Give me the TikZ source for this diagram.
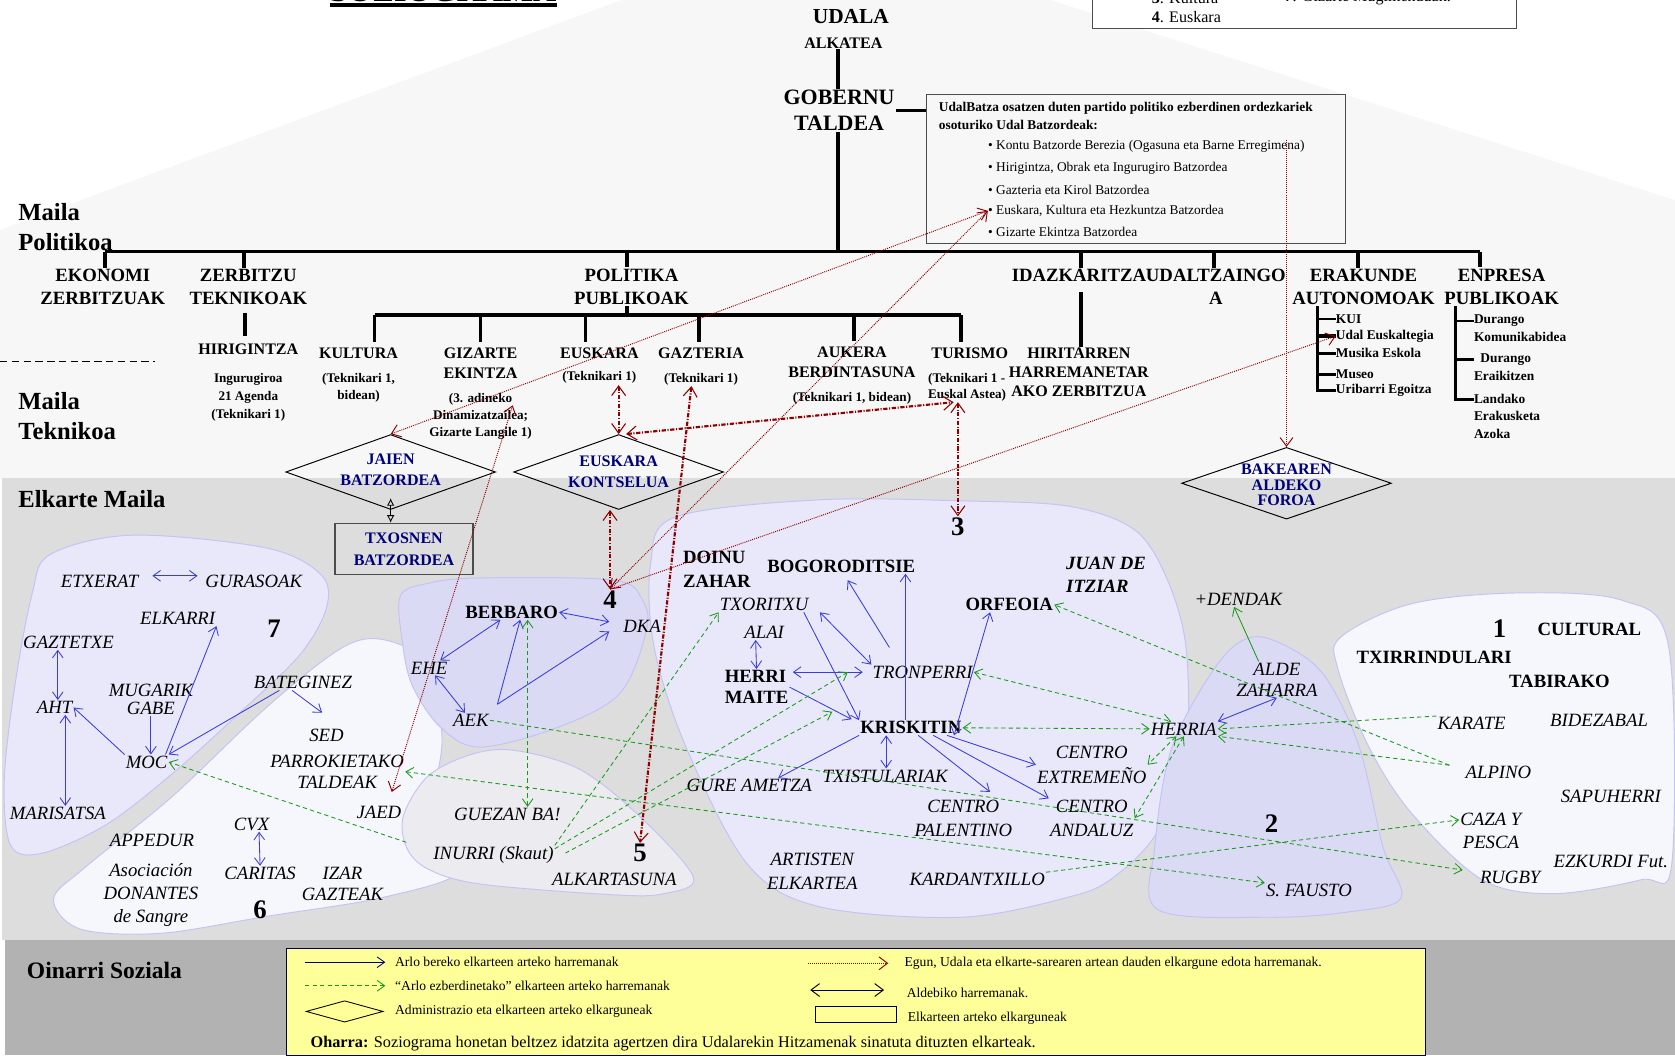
\documentclass[tikz,border=0pt]{standalone}
\usepackage{fontspec}
\setmainfont{Liberation Serif}
\usetikzlibrary{arrows.meta,shapes.geometric}
\definecolor{bgtop}{RGB}{247,247,247}
\definecolor{bgmid}{RGB}{221,221,221}
\definecolor{bgbot}{RGB}{178,178,178}
\definecolor{legy}{RGB}{255,255,153}
\definecolor{navy}{RGB}{0,0,120}
\definecolor{blu}{RGB}{60,60,215}
\definecolor{grn}{RGB}{25,155,25}
\definecolor{dred}{RGB}{140,0,0}
\definecolor{lav}{RGB}{232,232,250}
\definecolor{lavd}{RGB}{218,218,245}
\definecolor{lavw}{RGB}{246,246,253}
\definecolor{lgray}{RGB}{236,236,240}
\definecolor{bord}{RGB}{195,195,245}
\tikzset{
 elk/.style={font=\fontsize{17.5}{21}\selectfont\itshape, inner sep=1pt, align=center},
 elkb/.style={font=\fontsize{17.5}{21}\selectfont\bfseries, inner sep=1pt, align=center},
 numl/.style={font=\fontsize{25}{25}\selectfont\bfseries, inner sep=1pt},
 lvla/.style={font=\fontsize{17.5}{22}\selectfont\bfseries, align=center, inner sep=1pt},
 lvlb/.style={font=\fontsize{15}{19}\selectfont\bfseries, align=center, inner sep=1pt},
 subt/.style={font=\fontsize{12.3}{16}\selectfont\bfseries, align=center, inner sep=1pt},
 sidelbl/.style={font=\fontsize{23}{28}\selectfont\bfseries, align=left, inner sep=0pt, anchor=west},
 navyt/.style={font=\fontsize{15}{20}\selectfont\bfseries, text=navy, align=center, inner sep=0pt},
 diam/.style={diamond, draw=black, line width=0.9pt, inner sep=0pt, minimum width=196, minimum height=70},
 treeln/.style={line width=3.5pt},
 blob/.style={draw=bord, line width=0.9pt},
 blarr/.style={draw=blu, line width=0.8pt},
 grarr/.style={draw=grn, line width=0.8pt, dash pattern=on 4pt off 3pt},
 rdarr/.style={draw=dred, line width=0.9pt, densely dotted, >={Straight Barb[length=8pt,width=12pt]}},
 rdkarr/.style={draw=dred, line width=2pt, dash pattern=on 4pt off 1.5pt on 1pt off 1.5pt, >={Straight Barb[length=9pt,width=13pt,line width=1pt]}},
 legt/.style={font=\fontsize{12.7}{14}\selectfont, anchor=west, inner sep=0pt},
 boxt/.style={font=\fontsize{12.5}{14}\selectfont, anchor=west, inner sep=0pt},
 listt/.style={font=\fontsize{12.5}{14}\selectfont\bfseries, anchor=west, inner sep=0pt},
}
\begin{document}
\begin{tikzpicture}[x=1pt,y=-1pt, >={Straight Barb[length=7pt,width=10pt]}]
\useasboundingbox (0,0) rectangle (1565,986);
% backgrounds
\fill[white] (0,0) rectangle (1565,986);
\fill[bgtop] (0,215) -- (581,0) -- (981,0) -- (1565,187) -- (1565,447) -- (0,447) -- cycle;
\fill[bgmid] (2,447) rectangle (1565,878);
\fill[bgbot] (5,878) rectangle (1565,986);

% blobs
\draw[blob, fill=lavw] plot[smooth cycle, tension=0.55] coordinates {(360,598) (400,622) (413,690) (405,760) (432,812) (360,838) (250,856) (150,872) (75,868) (50,840) (80,810) (160,745) (250,660) (320,605)};
\draw[blob, fill=lav] plot[smooth cycle, tension=0.55] coordinates {(47,518) (124,500) (249,512) (300,537) (305,568) (280,612) (225,665) (162,722) (100,770) (40,797) (10,790) (4,729) (14,640) (30,555)};
\draw[blob, fill=lavd] plot[smooth cycle, tension=0.55] coordinates {(374,557) (400,545) (448,540) (573,542) (600,560) (604,589) (579,648) (520,680) (448,698) (411,679) (385,640) (376,600)};
\draw[blob, fill=lgray] plot[smooth cycle, tension=0.55] coordinates {(377,762) (400,725) (440,705) (480,701) (542,719) (600,765) (648,820) (620,835) (573,836) (449,826) (400,812) (380,792)};
\draw[blob, fill=lavw] plot[smooth cycle, tension=0.55] coordinates {(1253,595) (1319,564) (1418,554) (1516,561) (1559,604) (1562,807) (1533,822) (1451,835) (1385,822) (1319,760) (1279,698) (1250,625)};
\draw[blob, fill=lav] plot[smooth cycle, tension=0.55] coordinates {(631,483) (765,467) (900,468) (999,473) (1060,495) (1090,540) (1108,604) (1108,698) (1082,776) (1040,820) (999,838) (898,857) (765,847) (698,807) (641,698) (611,604) (608,526)};
\draw[blob, fill=lavd] plot[smooth cycle, tension=0.55] coordinates {(1171,595) (1210,608) (1240,635) (1270,698) (1292,791) (1309,839) (1260,852) (1187,857) (1082,850) (1079,791) (1095,698) (1138,620)};

% title and top legend box
\node[anchor=base west, font=\fontsize{30}{30}\selectfont\bfseries, inner sep=0pt] (title) at (308,1.5) {SOZIOGRAMA};
\draw[line width=3.5pt] ([yshift=-3.5]title.base west) -- ([yshift=-3.5]title.base east);
\node[draw=black!70, line width=0.8pt, fill=white, minimum width=396, minimum height=60, inner sep=0pt, anchor=south west] (tbox) at (1020,27) {};
\node[anchor=west, font=\fontsize{15}{18}\selectfont, inner sep=0pt] (tb3) at (1076,-2) {\textbf{3}. Kultura};
\node[anchor=west, font=\fontsize{15}{18}\selectfont, inner sep=0pt] (tb7) at (1200,-2) {\textbf{7}. Gizarte Mugimenduak.};
\node[anchor=west, font=\fontsize{15}{18}\selectfont, inner sep=0pt] (tb4) at (1076,16) {\textbf{4}. Euskara};

% political level
\node[font=\fontsize{20}{22}\selectfont\bfseries, inner sep=1pt] (udala) at (795,15) {UDALA};
\node[font=\fontsize{15}{17}\selectfont\bfseries, inner sep=1pt] (alkatea) at (788,40) {ALKATEA};
\node[font=\fontsize{20.5}{24}\selectfont\bfseries, align=center, inner sep=1pt] (gobernu) at (784,103) {GOBERNU\\TALDEA};
\node[draw=black!70, line width=0.8pt, fill=bgtop, minimum width=391, minimum height=139, inner sep=0pt] (ubox) at (1061.5,157.5) {};
\node[boxt, font=\fontsize{12.5}{14}\selectfont\bfseries] (ut1) at (877,101) {UdalBatza osatzen duten partido politiko ezberdinen ordezkariek};
\node[boxt, font=\fontsize{12.5}{14}\selectfont\bfseries] (ut2) at (877,117) {osoturiko Udal Batzordeak:};
\node[boxt] (b1) at (923,137) {• Kontu Batzorde Berezia (Ogasuna eta Barne Erregimena)};
\node[boxt] (b2) at (923,157) {• Hirigintza, Obrak eta Ingurugiro Batzordea};
\node[boxt] (b3) at (923,177) {• Gazteria eta Kirol Batzordea};
\node[boxt] (b4) at (923,197) {• Euskara, Kultura eta Hezkuntza Batzordea};
\node[boxt] (b5) at (923,217) {• Gizarte Ekintza Batzordea};

\node[sidelbl] (mailaP) at (17,212) {Maila\\Politikoa};
\node[sidelbl] (mailaT) at (17,389) {Maila\\Teknikoa};
\node[sidelbl] (elkm) at (17,466) {Elkarte Maila};
\node[sidelbl, font=\fontsize{22}{26}\selectfont\bfseries] (oinarri) at (25,907) {Oinarri Soziala};
\coordinate (dl1) at (0,338); \coordinate (dl2) at (145,338);
\draw[line width=0.8pt, dash pattern=on 7pt off 4pt] (dl1) -- (dl2);

% level 1 labels
\node[lvla] (ekonomi) at (96,268) {EKONOMI\\ZERBITZUAK};
\node[lvla] (zerb) at (232,268) {ZERBITZU\\TEKNIKOAK};
\node[lvla] (polit) at (590,268) {POLITIKA\\PUBLIKOAK};
\node[lvla, anchor=east] (idaz) at (1072,257) {IDAZKARITZA};
\node[lvla] (udalt) at (1136,268) {UDALTZAINGO\\A};
\node[lvla] (erak) at (1274,268) {ERAKUNDE\\AUTONOMOAK};
\node[lvla] (enpr) at (1403,268) {ENPRESA\\PUBLIKOAK};

\coordinate (barL) at (98,235); \coordinate (barR) at (1383,235);
\draw[treeln] (barL) -- (barR);
\draw[treeln] ([xshift=-1]gobernu.north) -- ([xshift=-1]gobernu.north |- alkatea.south);
\draw[treeln] ([xshift=-1]gobernu.south) -- ([xshift=-1]gobernu.south |- barL);
\draw[line width=3pt] (gobernu.east) -- (gobernu.east -| ubox.west);
\draw[treeln] ([xshift=2]ekonomi.north |- barL) -- ([xshift=2]ekonomi.north);
\draw[treeln] ([xshift=-4]zerb.north |- barL) -- ([xshift=-4]zerb.north);
\draw[treeln] ([xshift=-4]polit.north |- barL) -- ([xshift=-4]polit.north);
\draw[treeln] ([xshift=2]idaz.north |- barL) -- ([xshift=2]idaz.north);
\draw[treeln] ([xshift=-2]udalt.north |- barL) -- ([xshift=-2]udalt.north);
\draw[treeln] ([xshift=-5]erak.north |- barL) -- ([xshift=-5]erak.north);
\draw[treeln] ([xshift=-20]enpr.north |- barL) -- ([xshift=-20]enpr.north);

% level 2 labels
\node[lvlb] (hirig) at (232,326) {HIRIGINTZA};
\node[subt, font=\fontsize{12.3}{17}\selectfont\bfseries] (hsub) at (232,371) {Ingurugiroa\\21 Agenda\\(Teknikari 1)};
\node[lvlb] (kultura) at (335,330) {KULTURA};
\node[subt] (ksub) at (335,362) {(Teknikari 1,\\bidean)};
\node[lvlb] (gizarte) at (449,339.5) {GIZARTE\\EKINTZA};
\node[subt, font=\fontsize{12.3}{15.5}\selectfont\bfseries] (gsub) at (449,389) {(3. adineko\\Dinamizatzailea;\\Gizarte Langile 1)};
\node[lvlb] (euskT) at (560,330) {EUSKARA};
\node[subt] (eusub) at (560,353) {(Teknikari 1)};
\node[lvlb] (gazteria) at (655,330) {GAZTERIA};
\node[subt] (gazsub) at (655,354) {(Teknikari 1)};
\node[lvlb] (aukera) at (796,338.5) {AUKERA\\BERDINTASUNA};
\node[subt] (ausub) at (796,372) {(Teknikari 1, bidean)};
\node[lvlb] (turismo) at (906,330) {TURISMO};
\node[subt, align=left, anchor=west, font=\fontsize{12.3}{15}\selectfont\bfseries] (tursub) at (866,361.5) {(Teknikari 1 -\\Euskal Astea)};
\node[lvlb, font=\fontsize{15}{18}\selectfont\bfseries] (hiritar) at (1008,348) {HIRITARREN\\HARREMANETAR\\AKO ZERBITZUA};

\draw[treeln] ([xshift=-3,yshift=-6]zerb.south) -- ([xshift=-3,yshift=6]hirig.north);
\draw[treeln] ([xshift=2,yshift=-9]idaz.south) -- ([xshift=2]idaz.south |- hiritar.north);
\coordinate (b2L) at (350,294); \coordinate (b2R) at (898,294);
\draw[treeln] (b2L) -- (b2R);
\draw[treeln] ([xshift=-4]polit.south) -- ([xshift=-4]polit.south |- b2L);
\draw[treeln] (b2L) -- ([yshift=4]b2L |- kultura.north);
\draw[treeln] (gizarte.north |- b2L) -- ([yshift=4]gizarte.north);
\draw[treeln] ([xshift=-13]euskT.north |- b2L) -- ([xshift=-13,yshift=4]euskT.north);
\draw[treeln] ([xshift=-2]gazteria.north |- b2L) -- ([xshift=-2,yshift=4]gazteria.north);
\draw[treeln] ([xshift=2]aukera.north |- b2L) -- ([xshift=2,yshift=4]aukera.north);
\draw[treeln] (b2R) -- ([yshift=4]b2R |- turismo.north);

% erakunde autonomoak list
\node[listt] (kui) at (1248,298) {KUI};
\node[listt] (ude) at (1248,314) {Udal Euskaltegia};
\node[listt] (mus) at (1248,330) {Musika Eskola};
\node[listt] (museo) at (1248,350) {Museo};
\node[listt] (uri) at (1248,365) {Uribarri Egoitza};
\draw[line width=2.5pt] ([xshift=-43]erak.south) -- ([xshift=-43]erak.south |- uri.west) -- (uri.west);
\draw[line width=2.5pt] ([xshift=-43]erak.south |- kui.west) -- (kui.west);
\draw[line width=3.5pt] ([xshift=-43]erak.south |- ude.west) -- (ude.west);
\draw[line width=2.5pt] ([xshift=-43]erak.south |- mus.west) -- (mus.west);
\draw[line width=2.5pt] ([xshift=-43]erak.south |- museo.west) -- (museo.west);
% enpresa publikoak list
\node[listt] (dur1) at (1377,300) {Durango};
\node[listt] (kom) at (1377,315) {Komunikabidea};
\node[listt] (dur2) at (1383,336) {Durango};
\node[listt] (erai) at (1377,351) {Eraikitzen};
\node[listt] (land) at (1377,373) {Landako};
\node[listt] (erk) at (1377,389) {Erakusketa};
\node[listt] (azo) at (1377,405) {Azoka};
\draw[line width=2.5pt] ([xshift=-43]enpr.south) -- ([xshift=-43]enpr.south |- land.west) -- (land.west);
\draw[line width=2.5pt] ([xshift=-43]enpr.south |- dur1.west) -- (dur1.west);
\draw[line width=3.5pt] ([xshift=-43]enpr.south |- dur2.west) -- (dur2.west -| dur1.west);

% diamonds and box
\node[diam] (jaienD) at (365,441) {};
\node[navyt] (jaienT) at (365,439) {JAIEN\\BATZORDEA};
\node[diam] (kontD) at (578,441) {};
\node[navyt] (kontT) at (578,441) {EUSKARA\\KONTSELUA};
\node[diam, minimum height=67] (bakD) at (1202,451.5) {};
\node[navyt, font=\fontsize{15}{14.5}\selectfont\bfseries] (bakT) at (1202,453) {BAKEAREN\\ALDEKO\\FOROA};
\node[draw=black!70, line width=1.2pt, minimum width=129, minimum height=48, navyt] (txos) at (377.5,513) {TXOSNEN\\BATZORDEA};
\draw[line width=0.8pt, {Latex[open,length=7pt,width=7pt]}-{Latex[open,length=7pt,width=7pt]}] ([yshift=11]jaienD.south) -- (jaienD.south |- txos.north);

% blob 7
\node[elk] (etxerat) at (93,543) {ETXERAT};
\node[elk] (gurasoak) at (237,543) {GURASOAK};
\node[elk] (elkarri) at (166,578) {ELKARRI};
\node[numl] (num7) at (256,587) {7};
\node[elk] (gaztetxe) at (64,600) {GAZTETXE};
\node[elk, font=\fontsize{17.5}{17}\selectfont\itshape] (mugarik) at (141,653.5) {MUGARIK\\GABE};
\node[elk] (bateginez) at (283,638) {BATEGINEZ};
\node[elk] (aht) at (51,661) {AHT};
\node[elk] (moc) at (137,712) {MOC};
\node[elk] (marisatsa) at (54,760) {MARISATSA};
% blob 6
\node[elk] (sed) at (305,687) {SED};
\node[elk, font=\fontsize{17.5}{20}\selectfont\itshape] (parrok) at (315,721) {PARROKIETAKO\\TALDEAK};
\node[elk] (jaed) at (354,759) {JAED};
\node[elk] (appedur) at (142,785) {APPEDUR};
\node[elk] (cvx) at (235,770) {CVX};
\node[elk, font=\fontsize{17.5}{21.5}\selectfont\itshape] (asoc) at (141,836.5) {Asociación\\DONANTES\\de Sangre};
\node[elk] (caritas) at (243,816) {CARITAS};
\node[elk, font=\fontsize{17.5}{20}\selectfont\itshape] (izar) at (320,826) {IZAR\\GAZTEAK};
\node[numl] (num6) at (243,850) {6};
% blob 4
\node[elkb] (berbaro) at (478,572) {BERBARO};
\node[numl] (num4) at (570,560) {4};
\node[elk] (dka) at (600,585) {DKA};
\node[elk] (ehe) at (401,624) {EHE};
\node[elk] (aek) at (440,673) {AEK};
% blob 5
\node[elk] (guezan) at (474,761) {GUEZAN BA!};
\node[elk] (inurri) at (461,799) {INURRI (Skaut)};
\node[numl] (num5) at (598,797) {5};
\node[elk] (alkart) at (574,822) {ALKARTASUNA};
% blob 3
\node[numl] (num3) at (895,492) {3};
\node[elkb, anchor=west, align=left, font=\fontsize{17.5}{22}\selectfont\bfseries] (doinu) at (637,532) {DOINU\\ZAHAR};
\node[elkb] (bogo) at (786,529) {BOGORODITSIE};
\node[elkb, anchor=west, align=left, font=\fontsize{17.5}{22}\selectfont\bfseries\itshape] (juan) at (995,537) {JUAN DE\\ITZIAR};
\node[elk] (txoritxu) at (714,565) {TXORITXU};
\node[elk] (alai) at (714,591) {ALAI};
\node[elkb] (orfeoia) at (943,565) {ORFEOIA};
\node[elkb, anchor=west, align=left, font=\fontsize{17.5}{20}\selectfont\bfseries] (herri) at (676,642) {HERRI\\MAITE};
\node[elk] (tronperri) at (862,628) {TRONPERRI};
\node[elkb] (kriskitin) at (851,680) {KRISKITIN};
\node[elk] (gure) at (700,734) {GURE AMETZA};
\node[elk] (txist) at (827,725) {TXISTULARIAK};
\node[elk, font=\fontsize{17.5}{23}\selectfont\itshape] (extrem) at (1020,714.5) {CENTRO\\EXTREMEÑO};
\node[elk, font=\fontsize{17.5}{23}\selectfont\itshape] (palent) at (900,764.5) {CENTRO\\PALENTINO};
\node[elk, font=\fontsize{17.5}{23}\selectfont\itshape] (andal) at (1020,764.5) {CENTRO\\ANDALUZ};
\node[elk, font=\fontsize{17.5}{22}\selectfont\itshape] (artisten) at (759,814) {ARTISTEN\\ELKARTEA};
\node[elk] (kard) at (913,822) {KARDANTXILLO};
% blob 2 / 1
\node[elk] (dendak) at (1157,560) {+DENDAK};
\node[elk, font=\fontsize{17.5}{20}\selectfont\itshape] (alde) at (1193,635) {ALDE\\ZAHARRA};
\node[elk] (herria) at (1106,681) {HERRIA};
\node[numl] (num2) at (1188,770) {2};
\node[elk] (sfausto) at (1223,832) {S. FAUSTO};
\node[numl] (num1) at (1401,587) {1};
\node[elkb] (cultural) at (1485,588) {CULTURAL};
\node[elkb] (txirr) at (1340,614) {TXIRRINDULARI};
\node[elkb] (tabirako) at (1457,637) {TABIRAKO};
\node[elk] (karate) at (1375,676) {KARATE};
\node[elk] (bidezabal) at (1494,673) {BIDEZABAL};
\node[elk] (alpino) at (1400,722) {ALPINO};
\node[elk] (sapuherri) at (1505,744) {SAPUHERRI};
\node[elk] (cazay) at (1393,766) {CAZA Y};
\node[elk] (pesca) at (1393,787) {PESCA};
\node[elk] (ezkurdi) at (1505,805) {EZKURDI Fut.};
\node[elk] (rugby) at (1411,820) {RUGBY};

% blue arrows
\draw[blarr,<->] ([xshift=12,yshift=5]etxerat.east) -- ([xshift=-6,yshift=5]gurasoak.west);
\draw[blarr,<->] ([xshift=-10]gaztetxe.south) -- ([xshift=3]aht.north);
\draw[blarr,<->] ([xshift=10]aht.south) -- ([xshift=7]marisatsa.north);
\draw[blarr,->] (moc.north west) -- (aht.east);
\draw[blarr,->] (mugarik.south) -- ([xshift=4]moc.north);
\draw[blarr,->] ([xshift=-3]moc.north east) -- (elkarri.south east);
\draw[blarr,->] ([xshift=25]bateginez.south west) -- (moc.north east);
\draw[blarr,->] ([xshift=37]bateginez.south west) -- ([xshift=-4,yshift=14]sed.north);
\draw[blarr,<->] ([xshift=7]cvx.south) -- (caritas.north);
\draw[blarr,<->] (berbaro.east) -- ([xshift=-12,yshift=4]dka.west);
\draw[blarr,<->] (berbaro) -- (ehe);
\draw[blarr,<->] (ehe) -- (aek);
\draw[blarr,->] ([xshift=7,yshift=8]aek.north east) -- ([xshift=8]berbaro.south);
\draw[blarr,->] ([xshift=7,yshift=8]aek.north east) -- ([xshift=-12,yshift=-5]dka.west);
\draw[blarr,<->] ([xshift=-8]alai.south) -- (herri.north);
\draw[blarr,<->, shorten <=3pt, shorten >=8pt] (herri.east |- tronperri.west) -- (tronperri.west);
\draw[blarr,->] ([xshift=37]txoritxu.south) -- (kriskitin.north west);
\draw[blarr,<->] ([xshift=52]txoritxu.south) -- (tronperri.north west);
\draw[blarr,->] ([xshift=-31,yshift=16]tronperri.north) -- ([xshift=6,yshift=-6]bogo.south);
\draw[blarr,->] ([xshift=-5]kriskitin.north) -- ([xshift=-5]kriskitin.north |- bogo.south);
\draw[blarr,->] (herri.east) -- ([xshift=-7,yshift=8]kriskitin.west);
\draw[blarr,<->] ([xshift=-8]kriskitin.south east) -- ([xshift=-18]orfeoia.south);
\draw[blarr,->] (kriskitin.south west) -- ([xshift=27]gure.north);
\draw[blarr,<->] ([xshift=-23]kriskitin.south) -- ([xshift=1]txist.north);
\draw[blarr,->] ([xshift=34]kriskitin.south) -- (extrem.west);
\draw[blarr,->] ([xshift=7]kriskitin.south) -- ([xshift=25,yshift=6]palent.north);
\draw[blarr,->] ([xshift=21]kriskitin.south) -- (andal.north west);
\draw[blarr,<->] (alde.south) -- (herria.north east);
\draw[draw=grn, line width=0.8pt, ->] ([xshift=-17]alde.north) -- ([xshift=-4]dendak.south);

% green dashed arrows
\draw[grarr,<->] ([xshift=15]berbaro.south) -- ([xshift=19]guezan.north);
\draw[grarr,->] ([xshift=-24,yshift=12]inurri.west) -- (moc.east);
\draw[grarr,->] (inurri.north east) -- (txoritxu.south west);
\draw[grarr,->] ([yshift=6]inurri.east) -- ([xshift=-22]tronperri.west);
\draw[grarr,->] ([xshift=10,yshift=2]inurri.east) -- ([xshift=-25,yshift=15]kriskitin.west);
\draw[grarr,->] (aek.east) -- ([xshift=-15]rugby.north west);
\draw[grarr,<->] (parrok.east) -- (sfausto.north west);
\draw[grarr,<->] (tronperri.east) -- ([xshift=20]herria.north west);
\draw[grarr,<->] (kriskitin.east) -- (herria.west);
\draw[grarr,->] ([xshift=-14]alpino.north west) -- (orfeoia.east);
\draw[grarr,->] (karate.north west) -- (herria.east);
\draw[grarr,->] ([xshift=-14]alpino.north west) -- (herria.south east);
\draw[grarr,<->] ([xshift=-7]herria.south) -- (extrem.east);
\draw[grarr,<->] (herria.south) -- (andal.east);
\draw[grarr,->] (kard.north east) -- (cazay.west);

% red arrows
\draw[rdarr,<->] (jaienD.north) -- (b4.west);
\draw[rdarr,<->] (num4.north) -- (b4.west);
\draw[rdarr,->] (num4.north) -- (ude.west);
\draw[rdarr,<->] ([xshift=30,yshift=-12]gsub.north) -- ([xshift=12,yshift=12]jaed.north);
\draw[rdarr,<-] (bakD.north) -- (bakD.north |- b1.north);
\draw[rdkarr,<->] (kontD.north |- eusub.south) -- (kontD.north);
\draw[rdkarr,<->] ([xshift=7]kontD.north) -- ([xshift=25]tursub.south west);
\draw[rdkarr,<->] (num3.north |- tursub.south) -- (num3.north);
\draw[rdkarr,<->] ([xshift=-8]kontD.south) -- (num4.north);
\draw[rdkarr,<->] ([xshift=-9]gazsub.south) -- (num5.north);

% legend
\node[draw=navy!70!black, line width=1pt, fill=legy, minimum width=1064, minimum height=100, inner sep=0pt] (legbox) at (800,936) {};
\node[legt] (lt1) at (369,899) {Arlo bereko elkarteen arteko harremanak};
\draw[draw=navy, line width=0.8pt, ->] ([xshift=-84]lt1.west) -- ([xshift=-9]lt1.west);
\node[legt] (lt2) at (369,921) {“Arlo ezberdinetako” elkarteen arteko harremanak};
\draw[grarr,->] ([xshift=-84]lt2.west) -- ([xshift=-9]lt2.west);
\node[legt] (lt3) at (369,945) {Administrazio eta elkarteen arteko elkarguneak};
\node[diamond, draw=black, line width=0.8pt, inner sep=0pt, minimum width=72, minimum height=20] (ld) at ([xshift=-47]lt3.west) {};
\node[legt] (lt4) at (845,900) {Egun, Udala eta elkarte-sarearen artean dauden elkargune edota harremanak.};
\draw[rdarr,->] ([xshift=-90]lt4.west) -- ([xshift=-15]lt4.west);
\node[legt] (lt5) at (847,928) {Aldebiko harremanak.};
\draw[line width=0.9pt, <->, >={Straight Barb[length=8pt,width=12pt]}] ([xshift=-90,yshift=3]lt5.west) -- ([xshift=-21,yshift=3]lt5.west);
\node[legt] (lt6) at (848,951) {Elkarteen arteko elkarguneak};
\node[draw=black, line width=0.8pt, inner sep=0pt, minimum width=76, minimum height=15] (lr) at ([xshift=-48,yshift=3.5]lt6.west) {};
\node[anchor=west, inner sep=0pt, font=\fontsize{15.2}{17}\selectfont] (ohar) at (290,975) {\textbf{Oharra:} Soziograma honetan beltzez idatzita agertzen dira Udalarekin Hitzamenak sinatuta dituzten elkarteak.};
\end{tikzpicture}
\end{document}
